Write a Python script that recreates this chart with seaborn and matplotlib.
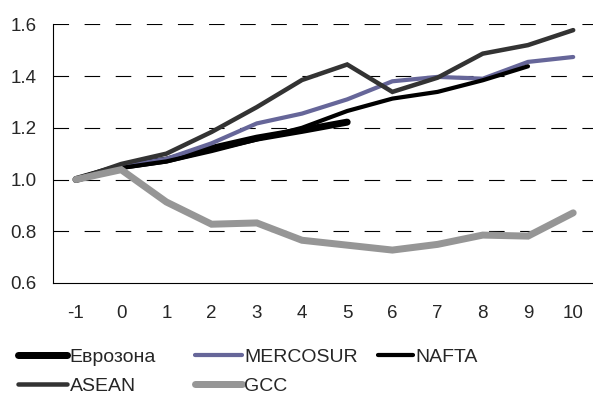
import numpy as np
import pandas as pd
import matplotlib
matplotlib.use("Agg")
import matplotlib.pyplot as plt
import seaborn as sns
from matplotlib.lines import Line2D

# Years relative to the start of integration
years = [-1, 0, 1, 2, 3, 4, 5, 6, 7, 8, 9, 10]

eurozone = [1.00, 1.05, 1.075, 1.12, 1.16, 1.19, 1.222]
mercosur = [1.00, 1.05, 1.08, 1.14, 1.217, 1.255, 1.31, 1.38, 1.397, 1.39, 1.455, 1.474]
nafta = [1.00, 1.045, 1.07, 1.11, 1.155, 1.20, 1.265, 1.313, 1.339, 1.384, 1.438]
asean = [1.00, 1.06, 1.10, 1.184, 1.28, 1.385, 1.445, 1.339, 1.394, 1.487, 1.52, 1.578]
gcc = [1.00, 1.038, 0.913, 0.827, 0.832, 0.765, 0.746, 0.727, 0.749, 0.785, 0.781, 0.871]

names = ["Еврозона", "MERCOSUR", "NAFTA", "ASEAN", "GCC"]
values = [eurozone, mercosur, nafta, asean, gcc]
colors = ["#000000", "#666699", "#000000", "#333333", "#969696"]
widths_px = [7.0, 4.2, 4.2, 4.5, 7.0]
widths = [w * 0.72 for w in widths_px]

rows = []
for name, vals in zip(names, values):
    for yr, v in zip(years, vals):
        rows.append({"year": yr, "value": v, "group": name})
df = pd.DataFrame(rows)

sns.set_style("white")
plt.rcParams["font.family"] = ["Liberation Sans", "DejaVu Sans"]

fig = plt.figure(figsize=(5.93, 3.94), dpi=100)
ax = fig.add_axes([0.09, 0.282, 0.9147, 0.656])

for name, col, lw in zip(names, colors, widths):
    sub = df[df["group"] == name]
    sns.lineplot(data=sub, x="year", y="value", ax=ax, color=col,
                 linewidth=lw, solid_capstyle="round",
                 solid_joinstyle="miter", legend=False)

ax.set_xlim(-1.5, 10.5)
ax.set_ylim(0.6, 1.6)
yt = [0.6, 0.8, 1.0, 1.2, 1.4, 1.6]
ax.set_yticks(yt)
ax.set_yticklabels([f"{v:.1f}" for v in yt])
ax.set_xticks(years)
ax.set_xticklabels([str(y) for y in years])
ax.set_xticks(np.arange(-1.5, 10.6, 1.0), minor=True)
ax.tick_params(axis="x", which="major", length=0, pad=16, labelsize=13.5)
ax.tick_params(axis="x", which="minor", length=4, width=0.8, direction="out", color="#000000")
ax.tick_params(axis="y", length=0, pad=12, labelsize=13.5)
ax.set_xlabel("")
ax.set_ylabel("")

for v in yt[1:]:
    ax.axhline(v, color="#000000", linewidth=0.8, dashes=(14, 14), zorder=0)

for s in ["top", "right"]:
    ax.spines[s].set_visible(False)
for s in ["left", "bottom"]:
    ax.spines[s].set_color("#000000")
    ax.spines[s].set_linewidth(0.8)

# Legend in three columns below the plot
handles = [Line2D([0], [0], color=c, linewidth=w, solid_capstyle="round")
           for c, w in zip(colors, widths)]
columns = [([0, 3], 0.030, 2.55), ([1, 4], 0.329, 2.4), ([2], 0.638, 1.8)]
for idx, xpos, hl in columns:
    fig.legend([handles[i] for i in idx], [names[i] for i in idx],
               loc="upper left", bbox_to_anchor=(xpos, 0.116),
               frameon=False, fontsize=14, handlelength=hl,
               handletextpad=0.12, labelspacing=0.58,
               borderpad=0, borderaxespad=0)

fig.savefig("out.png", dpi=100)
